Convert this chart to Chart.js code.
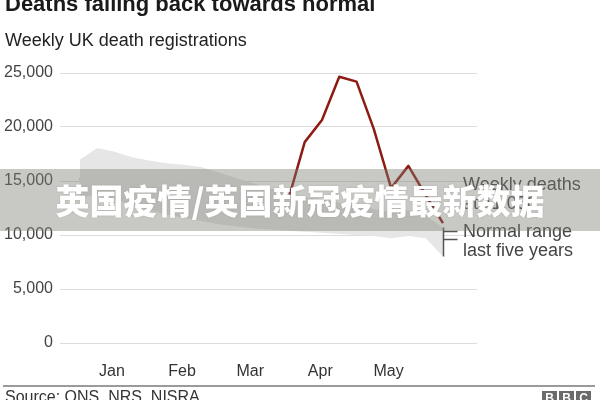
<!DOCTYPE html>
<html>
<head>
<meta charset="utf-8">
<script src="https://cdn.jsdelivr.net/npm/chart.js@4/dist/chart.umd.min.js"></script>
<style>
  html, body { margin: 0; padding: 0; background: #fff; }
  #wrap { position: relative; width: 600px; height: 400px; overflow: hidden;
          font-family: "Liberation Sans", Arial, sans-serif; color: #222; }
  #chart { position: absolute; left: 0; top: 0; }
  .txt { position: absolute; white-space: nowrap; }
  #title { left: 5px; top: -9px; font-size: 22px; font-weight: bold; color: #1a1a1a; }
  #subtitle { left: 5px; top: 30px; font-size: 18px; color: #222; }
  .lbl { font-size: 18px; color: #444; line-height: 19px; }
  #rule { position: absolute; left: 3px; top: 385px; width: 592px; height: 2px; background: #9a9a9a; }
  #source { left: 5px; top: 388px; font-size: 16px; color: #333; }
  #bbc { position: absolute; left: 542px; top: 391px; display: flex; gap: 2px; }
  #bbc span { display: block; width: 15px; height: 15px; background: #6b6b6b; color: #fff;
              font: bold 12px "Liberation Sans", Arial, sans-serif; text-align: center; line-height: 15px; }
  #wm { position: absolute; left: 0; top: 169px; width: 600px; height: 62px;
        background: rgba(125,125,115,0.42); }
  #wmtext { position: absolute; left: 0; top: 169px; width: 600px; height: 62px; line-height: 62px;
            text-align: center; color: #fff; font-size: 34px; font-weight: 900;
            font-family: "Noto Sans CJK SC", sans-serif; text-shadow: 0 0 2px rgba(0,0,0,0.15); }
</style>
</head>
<body>
<div id="wrap">
  <canvas id="chart" width="600" height="400"></canvas>
  <div class="txt" id="title">Deaths falling back towards normal</div>
  <div class="txt" id="subtitle">Weekly UK death registrations</div>
  <div class="txt lbl" style="left:463px; top:175px;">Weekly deaths<br>at 11,056</div>
  <div class="txt lbl" style="left:463px; top:222px;">Normal range<br>last five years</div>
  <div id="rule"></div>
  <div class="txt" id="source">Source: ONS, NRS, NISRA</div>
  <div id="bbc"><span>B</span><span>B</span><span>C</span></div>
  <div id="wm"></div>
  <div id="wmtext">英国疫情/英国新冠疫情最新数据</div>
</div>
<script>
// Номер недели 2020 года
const weeks = [1, 2, 3, 4, 5, 6, 7, 8, 9, 10, 11, 12, 13, 14, 15, 16, 17, 18, 19, 20, 21, 22];

// Смертей за неделю в 2020 (красная линия)
const deaths2020 = [15100, 16100, 14700, 13500, 13000, 12600, 12500, 12500, 12600, 12400, 12400,
                    12200, 13000, 18600, 20650, 24650, 24200, 19800, 14350, 16400, 13700, 11100];

// Нормальный диапазон за пять лет: верх / низ / среднее
const rangeUpper = [17000, 18050, 17700, 17200, 16900, 16650, 16500, 16300, 15800, 15300, 14800,
                    14300, 13800, 13500, 13300, 13000, 12700, 12400, 12100, 12300, 11800, 10700];
const rangeLower = [13400, 13800, 13300, 12800, 12300, 11900, 11600, 11300, 11000, 10800, 10600,
                    10500, 10400, 10300, 10200, 10100, 10000, 9900, 9700, 9900, 9700, 8000];
const rangeAverage = [14600, 15600, 15100, 14400, 13900, 13400, 13000, 12700, 12500, 12300, 12100,
                      12000, 11800, 11700, 11600, 11500, 11400, 11200, 11100, 11400, 11200, 9600];

// Подписи месяцев и где они стоят (в неделях)
const monthLabels = ['Jan', 'Feb', 'Mar', 'Apr', 'May'];
const monthTickWeeks = [2.85, 6.9, 10.85, 14.9, 18.85];

const yTicks = [0, 5000, 10000, 15000, 20000, 25000];

const toPoints = vals => vals.map((v, i) => ({ x: weeks[i], y: v }));

// Маркер «нормального диапазона» на последней неделе
const rangeMarker = {
    id: 'rangeMarker',
    afterDatasetsDraw(chart) {
        const { ctx, scales: { x, y } } = chart;
        const last = weeks.length - 1;
        const px = Math.round(x.getPixelForValue(weeks[last])) + 0.5;
        ctx.save();
        ctx.strokeStyle = '#555';
        ctx.lineWidth = 1.5;
        ctx.beginPath();
        ctx.moveTo(px, y.getPixelForValue(rangeUpper[last]));
        ctx.lineTo(px, y.getPixelForValue(rangeLower[last]));
        [rangeUpper[last] - 350, rangeAverage[last]].forEach(v => {
            const py = Math.round(y.getPixelForValue(v)) + 0.5;
            ctx.moveTo(px, py);
            ctx.lineTo(px + 14, py);
        });
        ctx.stroke();
        ctx.restore();
    }
};

new Chart(document.getElementById('chart'), {
    type: 'line',
    data: {
        datasets: [
            { data: toPoints(rangeLower), borderWidth: 0, pointRadius: 0, fill: false },
            { data: toPoints(rangeUpper), borderWidth: 0, pointRadius: 0,
              fill: '-1', backgroundColor: '#e6e6e6' },
            { data: toPoints(rangeAverage), borderColor: '#9b9b9b', borderWidth: 2,
              pointRadius: 0, fill: false },
            { data: toPoints(deaths2020), borderColor: '#8e1b12', borderWidth: 2.5,
              pointRadius: 0, fill: false, borderJoinStyle: 'round' }
        ]
    },
    options: {
        responsive: false,
        animation: false,
        layout: { padding: { top: 73, right: 123, left: 0, bottom: 0 } },
        plugins: { legend: { display: false }, tooltip: { enabled: false } },
        scales: {
            x: {
                type: 'linear',
                min: -0.16,
                max: 23.97,
                grid: { display: false },
                border: { display: false },
                afterBuildTicks: s => { s.ticks = monthTickWeeks.map(v => ({ value: v })); },
                afterFit: s => { s.height = 57; },
                ticks: {
                    autoSkip: false,
                    maxRotation: 0,
                    padding: 11,
                    color: '#333',
                    font: { size: 16, family: '"Liberation Sans", Arial, sans-serif' },
                    callback: (v, i) => monthLabels[i]
                }
            },
            y: {
                min: 0,
                max: 25000,
                afterBuildTicks: s => { s.ticks = yTicks.map(v => ({ value: v })); },
                afterFit: s => { s.width = 60; },
                grid: { color: '#dcdcdc', lineWidth: 1, drawTicks: false },
                border: { display: false },
                ticks: {
                    padding: 7,
                    color: '#444',
                    font: { size: 16, family: '"Liberation Sans", Arial, sans-serif' },
                    callback: v => v.toLocaleString('en-US')
                }
            }
        }
    },
    plugins: [rangeMarker]
});
</script>
</body>
</html>
